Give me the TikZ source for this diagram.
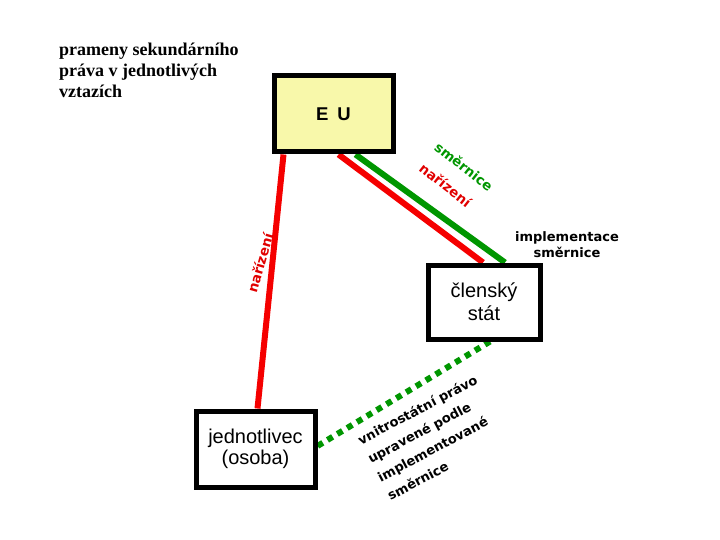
\documentclass[tikz,border=0pt]{standalone}
\usepackage{fontspec}
\setmainfont{Liberation Serif}
\setsansfont{Liberation Sans}
\newfontfamily\labelfont{DejaVu Sans}
\usetikzlibrary{calc,backgrounds}

\definecolor{euyellow}{RGB}{248,248,170}
\definecolor{linered}{RGB}{245,0,0}
\definecolor{textred}{RGB}{225,0,0}
\definecolor{linegreen}{RGB}{0,150,0}

\begin{document}
\begin{tikzpicture}[x=1pt,y=-1pt,
    box/.style={draw=black, line width=5pt, fill=white, inner sep=0pt, align=center, font=\sffamily},
    redline/.style={draw=linered, line width=6pt},
    greenline/.style={draw=linegreen, line width=6pt},
    tag/.style={inner sep=0pt, font=\labelfont\bfseries\fontsize{13.5}{16}\selectfont}]

    \useasboundingbox (0,0) rectangle (720,540);

    % Define the points
    \coordinate (E) at (333.5,114);
    \coordinate (S) at (484,302);
    \coordinate (J) at (255.5,449);

    % Title
    \node[anchor=north west, align=left, inner sep=0pt,
          font=\rmfamily\bfseries\fontsize{18}{21}\selectfont] (title) at (59,42.5)
        {prameny sekundárního\\práva v jednotlivých\\vztazích};

    % Draw the boxes
    \node[box, fill=euyellow, minimum width=119, minimum height=76,
          font=\sffamily\bfseries\fontsize{18.5}{20}\selectfont] (eu) at (E) {E\hspace{9pt}U};
    \node[box, minimum width=112, minimum height=74,
          font=\sffamily\fontsize{20}{23}\selectfont] (stat) at (S) {členský\\stát};
    \node[box, minimum width=119, minimum height=76,
          font=\sffamily\fontsize{20}{21}\selectfont] (osoba) at (J) {jednotlivec\\(osoba)};

    % Draw the connections
    \begin{scope}[on background layer]
        \draw[redline] ($(eu.south west)+(12,0)$) -- ($(osoba.north)+(2,0)$);
        \draw[redline] ($(eu.south)+(5,0)$) -- ($(stat.north)+(-1,0)$);
        \draw[greenline] ($(eu.south)+(22,0)$) -- ($(stat.north)+(21,0)$);
        \draw[greenline, dash pattern=on 6pt off 5.5pt] ($(stat.south)+(6,0)$) -- ($(osoba.east)+(0,-3)$);
    \end{scope}

    % Label the connections
    \node[tag, rotate=-38, text=linegreen] (smernice) at (464,166.5) {směrnice};
    \node[tag, rotate=-38, text=textred] (narizeni) at (445.5,185) {nařízení};
    \node[tag, rotate=74, text=textred] (narizeniL) at (260,263) {nařízení};
    \node[tag, align=center, font=\labelfont\bfseries\fontsize{13}{16}\selectfont] (impl) at (567,245)
        {implementace\\směrnice};
    \node[tag, rotate=28, anchor=north west, align=left,
          font=\labelfont\bfseries\fontsize{13}{21}\selectfont] (pravo) at (356,436)
        {vnitrostátní právo\\upravené podle\\implementované\\směrnice};

\end{tikzpicture}
\end{document}
